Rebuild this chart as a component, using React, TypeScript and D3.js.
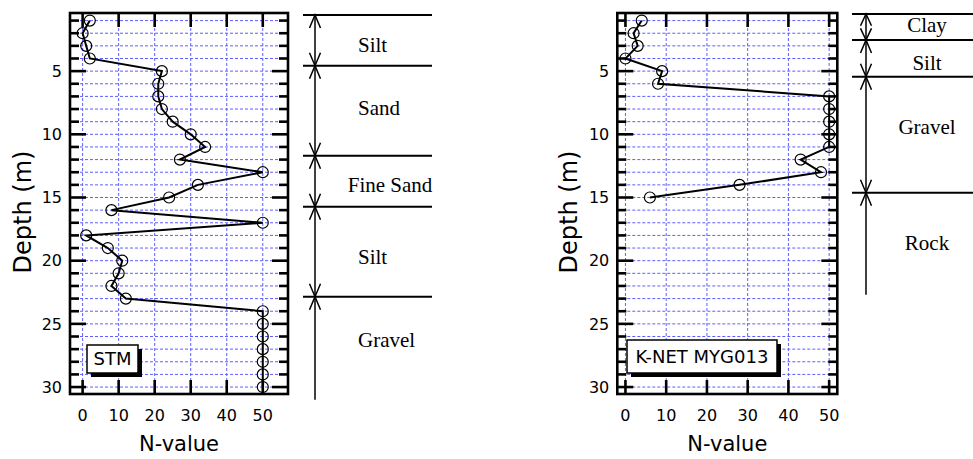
import React from 'react';
import * as d3 from 'd3';

// ---- Data ----
const stmDepth = [1, 2, 3, 4, 5, 6, 7, 8, 9, 10, 11, 12, 13, 14, 15, 16, 17, 18, 19, 20, 21, 22, 23, 24, 25, 26, 27, 28, 29, 30];
const stmN = [2, 0, 1, 2, 22, 21, 21, 22, 25, 30, 34, 27, 50, 32, 24, 8, 50, 1, 7, 11, 10, 8, 12, 50, 50, 50, 50, 50, 50, 50];
const mygDepth = [1, 2, 3, 4, 5, 6, 7, 8, 9, 10, 11, 12, 13, 14, 15];
const mygN = [4, 2, 3, 0, 9, 8, 50, 50, 50, 50, 50, 43, 48, 28, 6];

const xTickValues = [0, 10, 20, 30, 40, 50];
const yLabelValues = [5, 10, 15, 20, 25, 30];
const yTickValues = [1, 2, 3, 4, 5, 6, 7, 8, 9, 10, 11, 12, 13, 14, 15, 16, 17, 18, 19, 20, 21, 22, 23, 24, 25, 26, 27, 28, 29, 30];

const stmLayers = ['Silt', 'Sand', 'Fine Sand', 'Silt', 'Gravel'];
const stmBounds = [0.56, 4.57, 11.69, 15.73, 22.85, 31.0];
const stmLabelDepth = [2.93, 7.92, 14.01, 19.71, 26.28];

const mygLayers = ['Clay', 'Silt', 'Gravel', 'Rock'];
const mygBounds = [0.48, 2.54, 5.44, 14.62, 22.7];
const mygLabelDepth = [1.35, 4.36, 9.42, 18.6];

// ---- Layout ----
const W = 973;
const H = 459;
const TOP = 13;
const BOTTOM = 394;
const y = d3.scaleLinear().domain([0.4, 30.55]).range([TOP, BOTTOM]);
const GRID = 'rgb(95,95,255)';
const SANS = 'DejaVu Sans, sans-serif';
const SERIF = 'Liberation Serif, Times New Roman, serif';

type PanelProps = {
  x: d3.ScaleLinear<number, number>;
  depth: number[];
  nval: number[];
  name: string;
  box: [number, number, number, number];
  labelX: number;
};

function Panel({ x, depth, nval, name, box, labelX }: PanelProps) {
  const [x0, x1] = x.range();
  const line = d3
    .line<number>()
    .x((_, i) => x(nval[i]))
    .y((d) => y(d));
  const tickW = 2.6;
  return (
    <g>
      {/* grid */}
      {yTickValues.map((d) => (
        <line key={'gh' + d} x1={x0} x2={x1} y1={y(d)} y2={y(d)} stroke={GRID} strokeWidth={1} strokeDasharray="3,2" />
      ))}
      {xTickValues.map((d) => (
        <line key={'gv' + d} x1={x(d)} x2={x(d)} y1={TOP} y2={BOTTOM} stroke={GRID} strokeWidth={1} strokeDasharray="3,2" />
      ))}
      {/* data */}
      <path d={line(depth) || ''} fill="none" stroke="#000" strokeWidth={2} />
      {depth.map((d, i) => (
        <circle key={'c' + i} cx={x(nval[i])} cy={y(d)} r={5.5} fill="none" stroke="#000" strokeWidth={1.2} />
      ))}
      {/* ticks */}
      {yTickValues.map((d) => {
        const len = d % 5 === 0 ? 16 : 9;
        return (
          <g key={'yt' + d}>
            <line x1={x0} x2={x0 + len} y1={y(d)} y2={y(d)} stroke="#000" strokeWidth={tickW} />
            <line x1={x1} x2={x1 - len} y1={y(d)} y2={y(d)} stroke="#000" strokeWidth={tickW} />
          </g>
        );
      })}
      {xTickValues.map((d) => (
        <g key={'xt' + d}>
          <line x1={x(d)} x2={x(d)} y1={TOP} y2={TOP + 14} stroke="#000" strokeWidth={tickW} />
          <line x1={x(d)} x2={x(d)} y1={BOTTOM} y2={BOTTOM - 14} stroke="#000" strokeWidth={tickW} />
        </g>
      ))}
      <rect x={x0} y={TOP} width={x1 - x0} height={BOTTOM - TOP} fill="none" stroke="#000" strokeWidth={2.6} />
      {/* tick labels */}
      {yLabelValues.map((d) => (
        <text key={'yl' + d} x={x0 - 8} y={y(d)} dy="0.36em" textAnchor="end" fontFamily={SANS} fontSize={16} fill="#000">
          {d}
        </text>
      ))}
      {xTickValues.map((d) => (
        <text key={'xl' + d} x={x(d)} y={421} textAnchor="middle" fontFamily={SANS} fontSize={16} fill="#000">
          {d}
        </text>
      ))}
      {/* axis titles */}
      <text x={(x0 + x1) / 2} y={451} textAnchor="middle" fontFamily={SANS} fontSize={21} fill="#000">
        N-value
      </text>
      <text transform={`translate(${labelX},212) rotate(-90)`} textAnchor="middle" fontFamily={SANS} fontSize={24} fill="#000">
        Depth (m)
      </text>
      {/* name box */}
      <rect x={box[0] + 4} y={box[1] + 4} width={box[2]} height={box[3]} fill="#000" />
      <rect x={box[0]} y={box[1]} width={box[2]} height={box[3]} fill="#fff" stroke="#000" strokeWidth={1.5} />
      <text x={box[0] + box[2] / 2} y={box[1] + box[3] / 2} dy="0.36em" textAnchor="middle" fontFamily={SANS} fontSize={18} fill="#000">
        {name}
      </text>
    </g>
  );
}

type ColumnProps = {
  layers: string[];
  bounds: number[];
  labelDepth: number[];
  lx0: number;
  lx1: number;
  ax: number;
  textX: (i: number) => number;
  anchor: (i: number) => string;
};

function arrowHead(x: number, yy: number, dir: number, len: number, hw: number) {
  // dir = -1 points up, +1 points down; tip at (x,yy)
  const by = yy - dir * len;
  return `M${x - hw},${by}L${x},${yy}L${x + hw},${by}`;
}

function Column({ layers, bounds, labelDepth, lx0, lx1, ax, textX, anchor }: ColumnProps) {
  const n = layers.length;
  return (
    <g>
      {bounds.slice(0, n).map((b, i) => (
        <line key={'h' + i} x1={lx0} x2={lx1} y1={y(b)} y2={y(b)} stroke="#000" strokeWidth={2} />
      ))}
      {layers.map((name, i) => {
        const t = y(bounds[i]);
        const b = y(bounds[i + 1]);
        const len = Math.min(13, (b - t) * 0.45);
        const last = i === n - 1;
        return (
          <g key={'l' + i}>
            <line x1={ax} x2={ax} y1={t} y2={b} stroke="#000" strokeWidth={1.5} />
            <path d={arrowHead(ax, t, -1, len, 5.5)} fill="none" stroke="#000" strokeWidth={1.5} />
            {!last && <path d={arrowHead(ax, b, 1, len, 5.5)} fill="none" stroke="#000" strokeWidth={1.5} />}
            <text x={textX(i)} y={y(labelDepth[i])} dy="0.33em" textAnchor={anchor(i)} fontFamily={SERIF} fontSize={21} fill="#000">
              {name}
            </text>
          </g>
        );
      })}
    </g>
  );
}

export default function App() {
  const xL = d3.scaleLinear().domain([-3.5, 57]).range([70, 288]);
  const xR = d3.scaleLinear().domain([-2, 52]).range([617.3, 837.3]);
  return (
    <svg width={W} height={H} style={{ position: 'absolute', left: 0, top: 0, background: '#fff' }}>
      <rect x={0} y={0} width={W} height={H} fill="#fff" />
      <Panel x={xL} depth={stmDepth} nval={stmN} name="STM" box={[87, 345, 51, 28]} labelX={31} />
      <Panel x={xR} depth={mygDepth} nval={mygN} name="K-NET MYG013" box={[627, 340, 150, 33]} labelX={577} />
      <Column
        layers={stmLayers}
        bounds={stmBounds}
        labelDepth={stmLabelDepth}
        lx0={303}
        lx1={432}
        ax={315}
        textX={(i) => (stmLayers[i] === 'Fine Sand' ? 390 : 358)}
        anchor={(i) => (stmLayers[i] === 'Fine Sand' ? 'middle' : 'start')}
      />
      <Column
        layers={mygLayers}
        bounds={mygBounds}
        labelDepth={mygLabelDepth}
        lx0={852}
        lx1={973}
        ax={866}
        textX={() => 927}
        anchor={() => 'middle'}
      />
    </svg>
  );
}
